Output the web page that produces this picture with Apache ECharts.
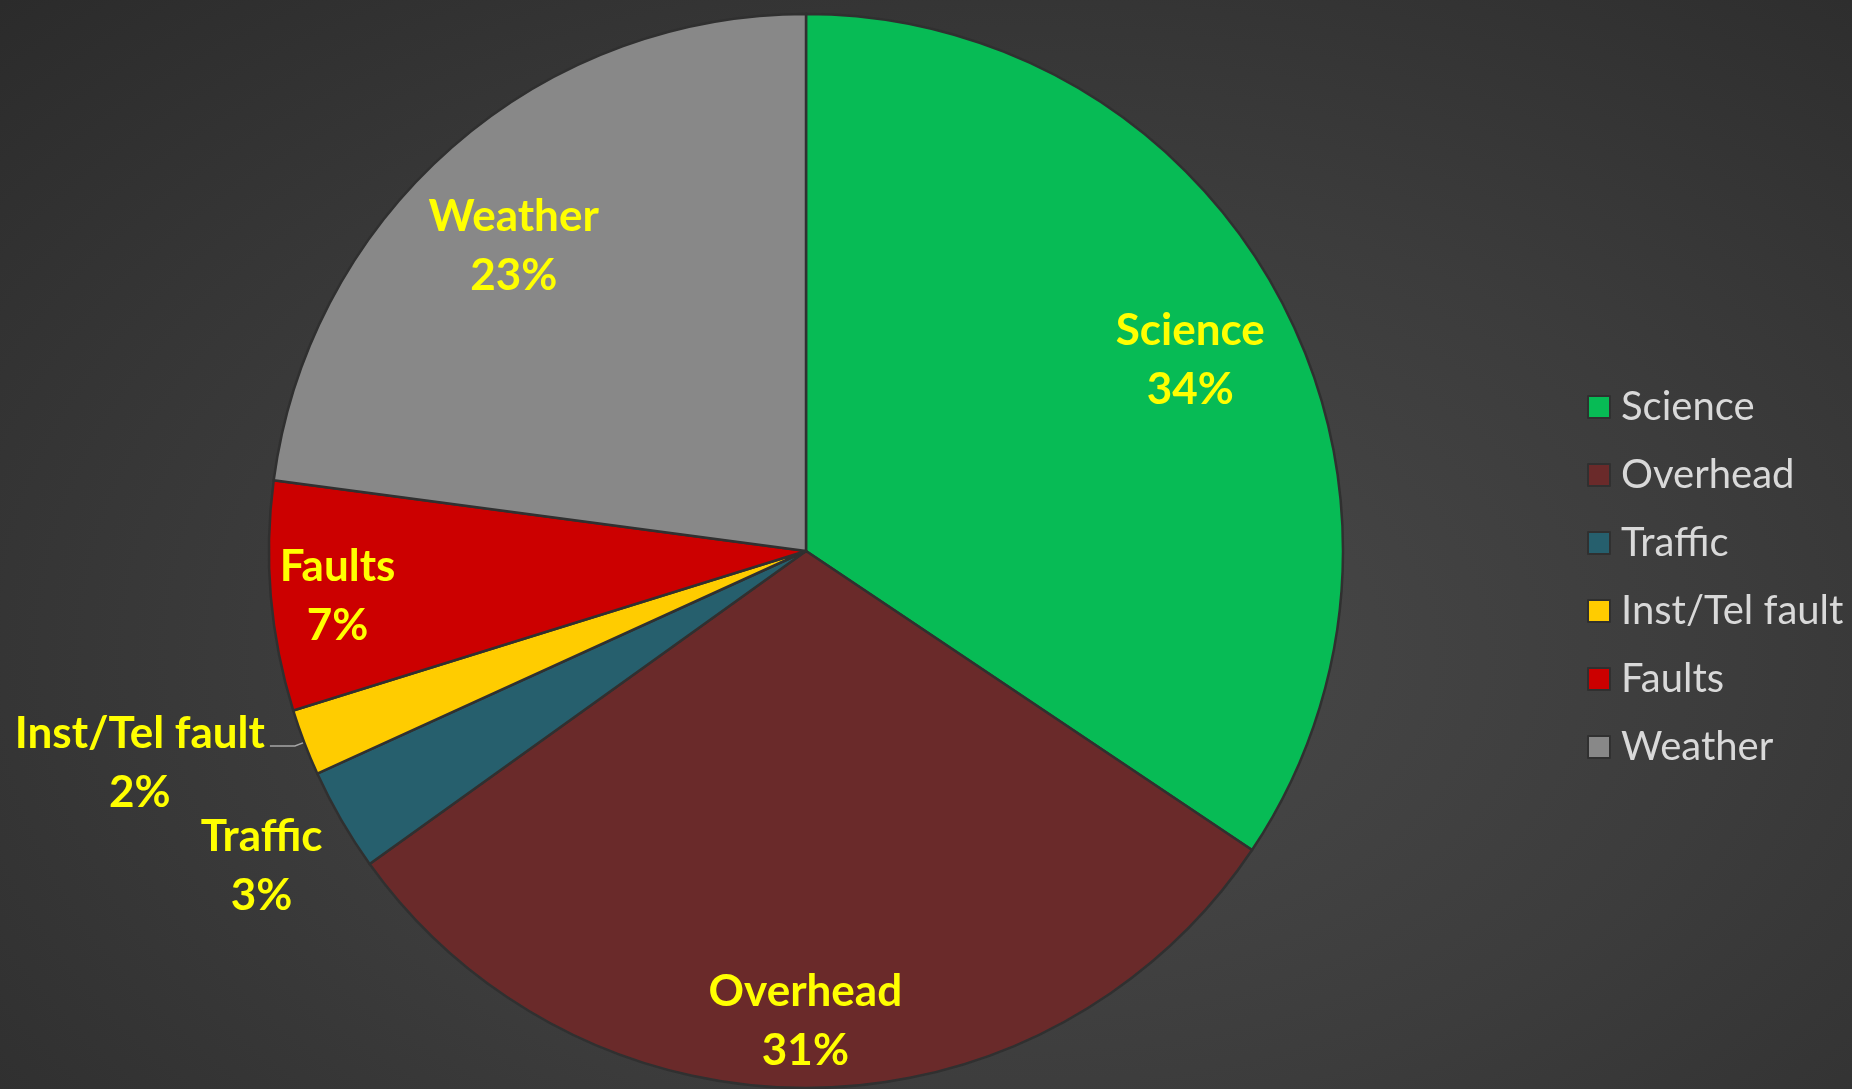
<!DOCTYPE html>
<html>
<head>
<meta charset="utf-8">
<title>Time usage</title>
<script src="https://cdn.jsdelivr.net/npm/echarts@6/dist/echarts.min.js"></script>
<style>
  html, body { margin: 0; padding: 0; background: #2c2c2c; }
  #chart {
    width: 1852px;
    height: 1089px;
    background: radial-gradient(ellipse at 55% 60%, #4a4a4a 0%, #3c3c3c 50%, #2b2b2b 100%);
  }
</style>
</head>
<body>
<div id="chart"></div>
<script>
const categories = ['Science', 'Overhead', 'Traffic', 'Inst/Tel fault', 'Faults', 'Weather']
const shares = [34.4, 30.7, 3.1, 2.0, 6.9, 22.9]
const sliceColors = ['#07bb55', '#6a2a2a', '#265f6d', '#ffcc00', '#cc0000', '#888888']
const outsideLabels = ['Inst/Tel fault', 'Traffic']
const nearLabels = ['Science', 'Weather']
const farLabels = ['Overhead', 'Faults']

const labelFont = 'Lato'
const pieCenter = [806, 551]
const pieRadius = 537

// small hand nudges so labels sit where excel put them
const labelNudge = {
  'Science': { dx: 5, dy: 12 },
  'Weather': { dx: -9, dy: 19 },
  'Faults': { dx: 0, dy: 5 },
  'Overhead': { dx: -8, dy: 0 },
  'Traffic': { dx: 20, dy: 41 },
  'Inst/Tel fault': { dx: 0, dy: 17 }
}

const chart = echarts.init(document.getElementById('chart'))

function labelText(p) {
  return '{n|' + p.name + '}\n{n|' + Math.round(p.percent) + '%}'
}

function nudge(params) {
  return labelNudge[categories[params.dataIndex]]
}

const labelRich = {
  n: {
    color: '#ffff00',
    fontFamily: labelFont,
    fontWeight: 'bold',
    fontSize: 44,
    lineHeight: 59,
    align: 'center'
  }
}

const pieData = categories.map((name, i) => ({
  name: name,
  value: shares[i],
  itemStyle: { color: sliceColors[i] },
  label: { show: outsideLabels.indexOf(name) !== -1 },
  labelLine: { show: name === 'Inst/Tel fault' }
}))

// transparent rings, only used to put the inner labels near the rim
function ringData(shown) {
  return categories.map((name, i) => ({
    name: name,
    value: shares[i],
    label: { show: shown.indexOf(name) !== -1 }
  }))
}

function labelRing(name, inner, shown) {
  return {
    name: name,
    type: 'pie',
    center: pieCenter,
    radius: [inner, pieRadius],
    startAngle: 90,
    clockwise: true,
    silent: true,
    legendHoverLink: false,
    itemStyle: { color: 'rgba(0,0,0,0)', borderWidth: 0 },
    label: {
      position: 'inside',
      formatter: labelText,
      rich: labelRich
    },
    labelLine: { show: false },
    labelLayout: nudge,
    data: ringData(shown)
  }
}

chart.setOption({
  backgroundColor: 'transparent',
  animation: false,
  legend: {
    orient: 'vertical',
    left: 1582,
    top: 382,
    itemWidth: 22,
    itemHeight: 22,
    itemGap: 28,
    icon: 'rect',
    data: categories.map((name, i) => ({ name: name, itemStyle: { color: sliceColors[i] } })),
    textStyle: {
      color: '#d9d9d9',
      fontFamily: labelFont,
      fontSize: 40,
      padding: [0, 0, 0, 6]
    }
  },
  series: [{
    name: 'usage',
    type: 'pie',
    center: pieCenter,
    radius: pieRadius,
    startAngle: 90,
    clockwise: true,
    avoidLabelOverlap: false,
    itemStyle: {
      borderColor: '#303030',
      borderWidth: 2.5
    },
    emphasis: { disabled: true },
    label: {
      position: 'outside',
      formatter: labelText,
      rich: labelRich,
      distanceToLabelLine: 5
    },
    labelLine: {
      length: 10,
      length2: 25,
      lineStyle: { color: '#a6a6a6', width: 1.5 }
    },
    labelLayout: nudge,
    data: pieData
  },
  labelRing('labels near', pieRadius * 0.59, nearLabels),
  labelRing('labels far', pieRadius * 0.74, farLabels)]
})
</script>
</body>
</html>
